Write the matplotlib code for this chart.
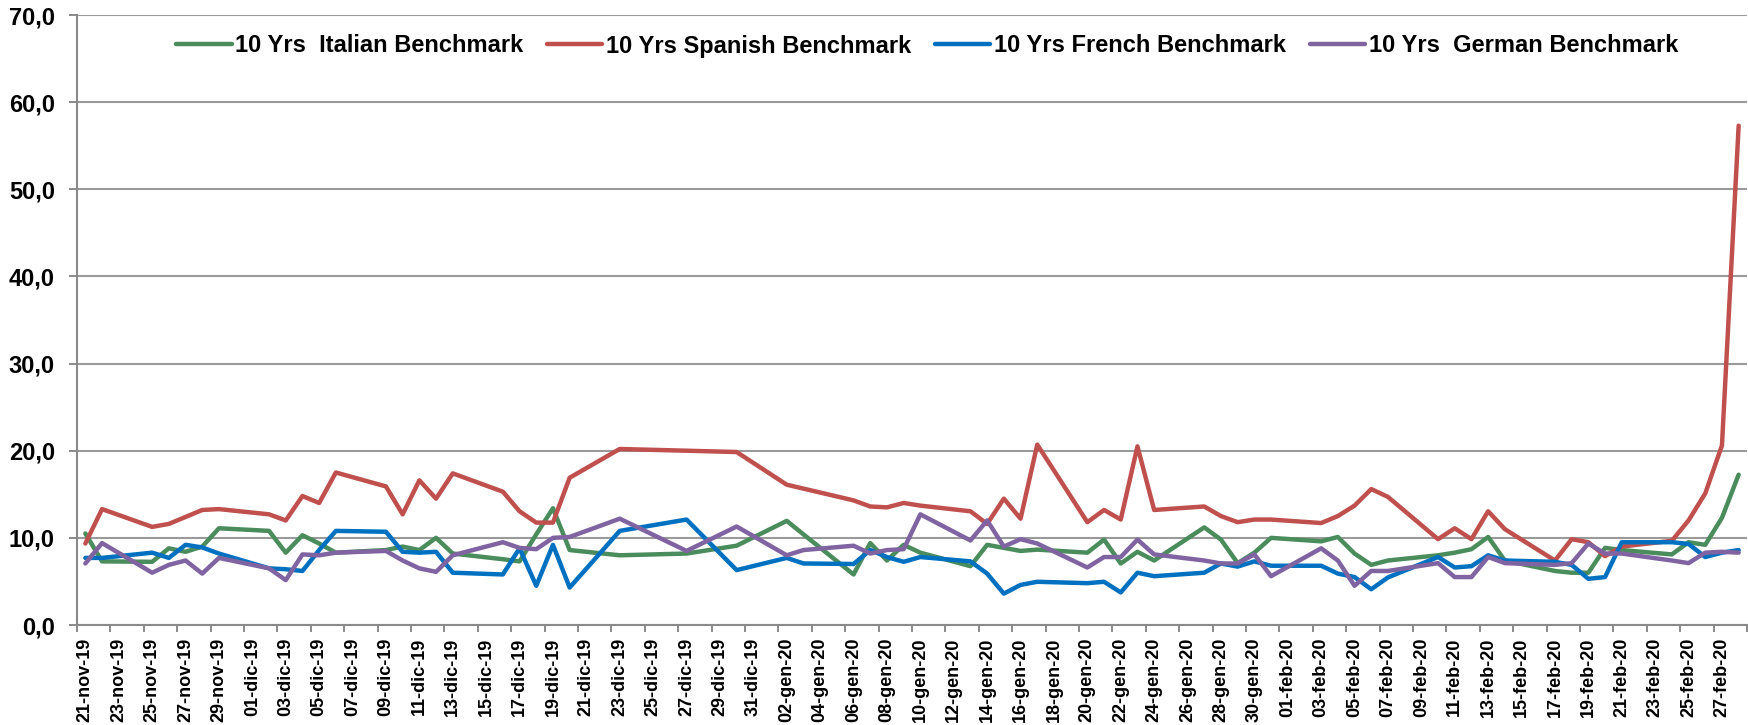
import datetime as dt

import matplotlib
matplotlib.use("Agg")
import matplotlib.pyplot as plt
import matplotlib.dates as mdates
from matplotlib.ticker import FixedLocator, FuncFormatter, MultipleLocator


DATES = [
    "2019-11-21", "2019-11-22", "2019-11-25", "2019-11-26", "2019-11-27", "2019-11-28", "2019-11-29",
    "2019-12-02", "2019-12-03", "2019-12-04", "2019-12-05", "2019-12-06",
    "2019-12-09", "2019-12-10", "2019-12-11", "2019-12-12", "2019-12-13",
    "2019-12-16", "2019-12-17", "2019-12-18", "2019-12-19", "2019-12-20",
    "2019-12-23", "2019-12-27", "2019-12-30",
    "2020-01-02", "2020-01-03",
    "2020-01-06", "2020-01-07", "2020-01-08", "2020-01-09", "2020-01-10",
    "2020-01-13", "2020-01-14", "2020-01-15", "2020-01-16", "2020-01-17",
    "2020-01-20", "2020-01-21", "2020-01-22", "2020-01-23", "2020-01-24",
    "2020-01-27", "2020-01-28", "2020-01-29", "2020-01-30", "2020-01-31",
    "2020-02-03", "2020-02-04", "2020-02-05", "2020-02-06", "2020-02-07",
    "2020-02-10", "2020-02-11", "2020-02-12", "2020-02-13", "2020-02-14",
    "2020-02-17", "2020-02-18", "2020-02-19", "2020-02-20", "2020-02-21",
    "2020-02-24", "2020-02-25", "2020-02-26", "2020-02-27", "2020-02-28",
]

ITALY = [
    10.5, 7.3, 7.25, 8.8, 8.4, 9.0, 11.1,
    10.8, 8.3, 10.3, 9.35, 8.3,
    8.6, 9.0, 8.6, 10.0, 8.2,
    7.55, 7.3, 10.4, 13.4, 8.6,
    8.0, 8.2, 9.1,
    11.95, 10.4,
    5.8, 9.4, 7.4, 9.2, 8.3,
    6.75, 9.2, 8.85, 8.5, 8.65,
    8.3, 9.8, 7.06, 8.4, 7.4,
    11.2, 9.8, 7.1, 8.3, 10.0,
    9.6, 10.1, 8.2, 6.9, 7.4,
    8.0, 8.3, 8.7, 10.1, 7.4,
    6.2, 6.0, 6.0, 8.85, 8.6,
    8.1, 9.5, 9.2, 12.3, 17.25,
]

SPAIN = [
    9.35, 13.3, 11.26, 11.6, 12.4, 13.2, 13.3,
    12.7, 12.0, 14.8, 14.0, 17.5,
    15.9, 12.7, 16.6, 14.5, 17.4,
    15.3, 13.05, 11.75, 11.75, 16.9,
    20.2, 20.0, 19.85,
    16.1, 15.65,
    14.3, 13.6, 13.5, 14.0, 13.7,
    13.05, 11.6, 14.5, 12.2, 20.7,
    11.8, 13.2, 12.1, 20.5, 13.2,
    13.6, 12.5, 11.8, 12.1, 12.1,
    11.7, 12.5, 13.7, 15.6, 14.7,
    9.85, 11.1, 9.85, 13.05, 11.0,
    7.4, 9.85, 9.5, 7.9, 9.0,
    9.66, 12.0, 15.1, 20.6, 57.3,
]

FRANCE = [
    7.7, 7.7, 8.3, 7.7, 9.2, 8.9, 8.2,
    6.5, 6.4, 6.2, 8.6, 10.8,
    10.7, 8.4, 8.3, 8.4, 6.0,
    5.8, 8.8, 4.5, 9.2, 4.3,
    10.8, 12.1, 6.3,
    7.7, 7.06,
    7.0, 8.6, 7.8, 7.25, 7.8,
    7.3, 5.9, 3.6, 4.6, 4.96,
    4.8, 4.96, 3.74, 6.0, 5.6,
    6.0, 7.06, 6.7, 7.3, 6.8,
    6.8, 5.9, 5.5, 4.1, 5.46,
    7.8, 6.6, 6.75, 8.0, 7.4,
    7.25, 6.9, 5.3, 5.5, 9.5,
    9.5, 9.3, 7.8, 8.3, 8.6,
]

GERMANY = [
    7.06, 9.4, 6.0, 6.9, 7.4, 5.9, 7.7,
    6.5, 5.15, 8.1, 8.0, 8.3,
    8.5, 7.4, 6.5, 6.1, 8.0,
    9.5, 8.85, 8.7, 10.0, 10.1,
    12.2, 8.5, 11.3,
    8.0, 8.6,
    9.1, 8.2, 8.6, 8.7, 12.7,
    9.7, 12.0, 9.0, 9.85, 9.35,
    6.6, 7.8, 7.8, 9.8, 8.1,
    7.4, 7.06, 7.06, 8.1, 5.6,
    8.8, 7.4, 4.5, 6.2, 6.2,
    7.1, 5.5, 5.5, 7.8, 7.1,
    6.9, 7.1, 9.35, 8.2, 8.2,
    7.4, 7.1, 8.3, 8.4, 8.3,
]

SERIES_LABELS = [
    "10 Yrs  Italian Benchmark",
    "10 Yrs Spanish Benchmark",
    "10 Yrs French Benchmark",
    "10 Yrs  German Benchmark",
]
SERIES_COLORS = ["#4A8C5C", "#C0504D", "#0070C0", "#8064A2"]

MONTHS_IT = {1: "gen", 2: "feb", 11: "nov", 12: "dic"}

GRID_COLOR = "#9a9a9a"
SPINE_COLOR = "#8a8a8a"

plt.rcParams["font.family"] = ["Liberation Sans", "DejaVu Sans"]
plt.rcParams["font.weight"] = "bold"

fig = plt.figure(figsize=(17.48, 7.25), dpi=100)
fig.patch.set_facecolor("white")
ax = fig.add_axes([77 / 1748, 100 / 725, 1670 / 1748, 610 / 725])

x = [mdates.date2num(dt.date.fromisoformat(d)) for d in DATES]
first_day = mdates.date2num(dt.date(2019, 11, 21))
last_day = mdates.date2num(dt.date(2020, 2, 28))

for values, label, color in zip([ITALY, SPAIN, FRANCE, GERMANY], SERIES_LABELS, SERIES_COLORS):
    ax.plot(x, values, color=color, linewidth=3.2, label=label,
            solid_capstyle="round", solid_joinstyle="round", zorder=3)

ax.set_xlim(first_day - 0.5, last_day + 0.5)
ax.set_ylim(0, 70)

# y axis
ax.yaxis.set_major_locator(MultipleLocator(10))
ax.yaxis.set_major_formatter(FuncFormatter(lambda v, pos: f"{v:.1f}".replace(".", ",")))
ax.tick_params(axis="y", which="major", length=6, width=1.4, color=SPINE_COLOR,
               labelsize=17, pad=10, labelcolor="black")

# x axis: tick marks on day boundaries every 2 days, labels on the day centres
n_days = int(last_day - first_day) + 1
ax.xaxis.set_major_locator(FixedLocator([first_day - 0.5 + k for k in range(0, n_days + 1, 2)]))
ax.xaxis.set_minor_locator(FixedLocator([first_day + k for k in range(0, n_days, 2)]))
ax.xaxis.set_major_formatter(FuncFormatter(lambda v, pos: ""))


def it_date(v, pos=None):
    d = mdates.num2date(v)
    return f"{d.day:02d}-{MONTHS_IT[d.month]}-{d:%y}"


ax.xaxis.set_minor_formatter(FuncFormatter(it_date))
ax.tick_params(axis="x", which="major", length=5, width=1.4, color=SPINE_COLOR)
ax.tick_params(axis="x", which="minor", length=0, labelsize=13, pad=9,
               labelrotation=90, labelcolor="black")

ax.grid(axis="y", color=GRID_COLOR, linewidth=1.5)
ax.set_axisbelow(True)
for side in ["top", "right"]:
    ax.spines[side].set_visible(False)
for side in ["left", "bottom"]:
    ax.spines[side].set_color(SPINE_COLOR)
    ax.spines[side].set_linewidth(1.5)

fig.legend(loc="center", bbox_to_anchor=(927 / 1748, 1 - 46 / 725), ncol=4,
           frameon=False, fontsize=17, handlelength=2.35, handletextpad=0.15,
           columnspacing=1.0, borderaxespad=0)

fig.savefig("out.png", dpi=100, facecolor=fig.get_facecolor())
